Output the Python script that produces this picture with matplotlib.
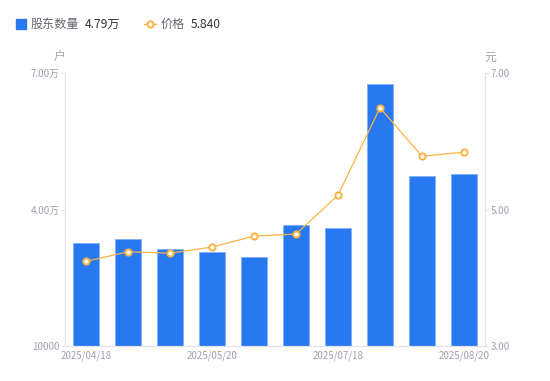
import matplotlib
matplotlib.use("Agg")
import matplotlib.pyplot as plt
from matplotlib.lines import Line2D

plt.rcParams['font.family'] = ['Noto Sans CJK SC', 'DejaVu Sans']

# data
dates = ['2025/04/18', '2025/04/30', '2025/05/10', '2025/05/20', '2025/06/10',
         '2025/06/30', '2025/07/18', '2025/07/31', '2025/08/10', '2025/08/20']
holders = [32600, 33450, 31400, 30650, 29500, 36500, 35950, 67600, 47300, 47900]
price = [4.24, 4.38, 4.36, 4.45, 4.61, 4.64, 5.21, 6.49, 5.78, 5.84]

left_ticks = [10000, 40000, 70000]
left_labels = ['10000', '4.00万', '7.00万']
right_ticks = [3.0, 5.0, 7.0]
right_labels = ['3.00', '5.00', '7.00']

blue = '#2878f2'
orange = '#fdb243'
grey = '#a0a0b0'
axis_c = '#e3e3e6'

fig = plt.figure(figsize=(5.5, 3.81), dpi=100)
ax = fig.add_axes([65/550, 35/381, 420/550, 273/381])
ax2 = ax.twinx()

x = list(range(len(dates)))
ax.bar(x, holders, width=0.6, bottom=0, color=blue, edgecolor='#7fb0f7', linewidth=0.6, zorder=2)
ax.set_ylim(10000, 70000)
ax.set_xlim(-0.5, len(dates) - 0.5)
ax.set_yticks(left_ticks)
ax.set_yticklabels(left_labels)
ax.set_xticks(x[::3])
ax.set_xticklabels(dates[::3])

ax2.plot(x, price, color=orange, linewidth=0.9, marker='o', markersize=4.5,
         markerfacecolor='white', markeredgecolor=orange, markeredgewidth=1.4, zorder=3)
ax2.set_ylim(3.0, 7.0)
ax2.set_yticks(right_ticks)
ax2.set_yticklabels(right_labels)

for a in (ax, ax2):
    a.spines['top'].set_visible(False)
    for s in ('left', 'right', 'bottom'):
        a.spines[s].set_color(axis_c)
        a.spines[s].set_linewidth(0.8)
    a.tick_params(axis='y', colors=axis_c, labelcolor=grey, labelsize=7, length=3, width=0.8, pad=1)
ax.tick_params(axis='x', length=0, labelcolor=grey, labelsize=7, pad=3)

fig.text(59/550, 1 - 57/381, '户', color=grey, fontsize=8.5, ha='center', va='center')
fig.text(490/550, 1 - 57/381, '元', color=grey, fontsize=8.5, ha='center', va='center')

# legend drawn as figure text
ly = 1 - 24/381
fig.add_artist(Line2D([21/550], [ly], marker='s', markersize=6.5, color=blue,
                      transform=fig.transFigure, linestyle='none'))
fig.text(31/550, ly, '股东数量', color='#666670', fontsize=8.7, va='center')
fig.text(85/550, ly, '4.79万', color='#333333', fontsize=8.7, va='center')
fig.add_artist(Line2D([144/550, 156/550], [ly, ly], color=orange, linewidth=1,
                      transform=fig.transFigure))
fig.add_artist(Line2D([150/550], [ly], marker='o', markersize=4.5, markerfacecolor='white',
                      markeredgecolor=orange, markeredgewidth=1.4,
                      transform=fig.transFigure, linestyle='none'))
fig.text(161/550, ly, '价格', color='#666670', fontsize=8.7, va='center')
fig.text(191/550, ly, '5.840', color='#333333', fontsize=8.7, va='center')

fig.savefig('out.png', dpi=100)
